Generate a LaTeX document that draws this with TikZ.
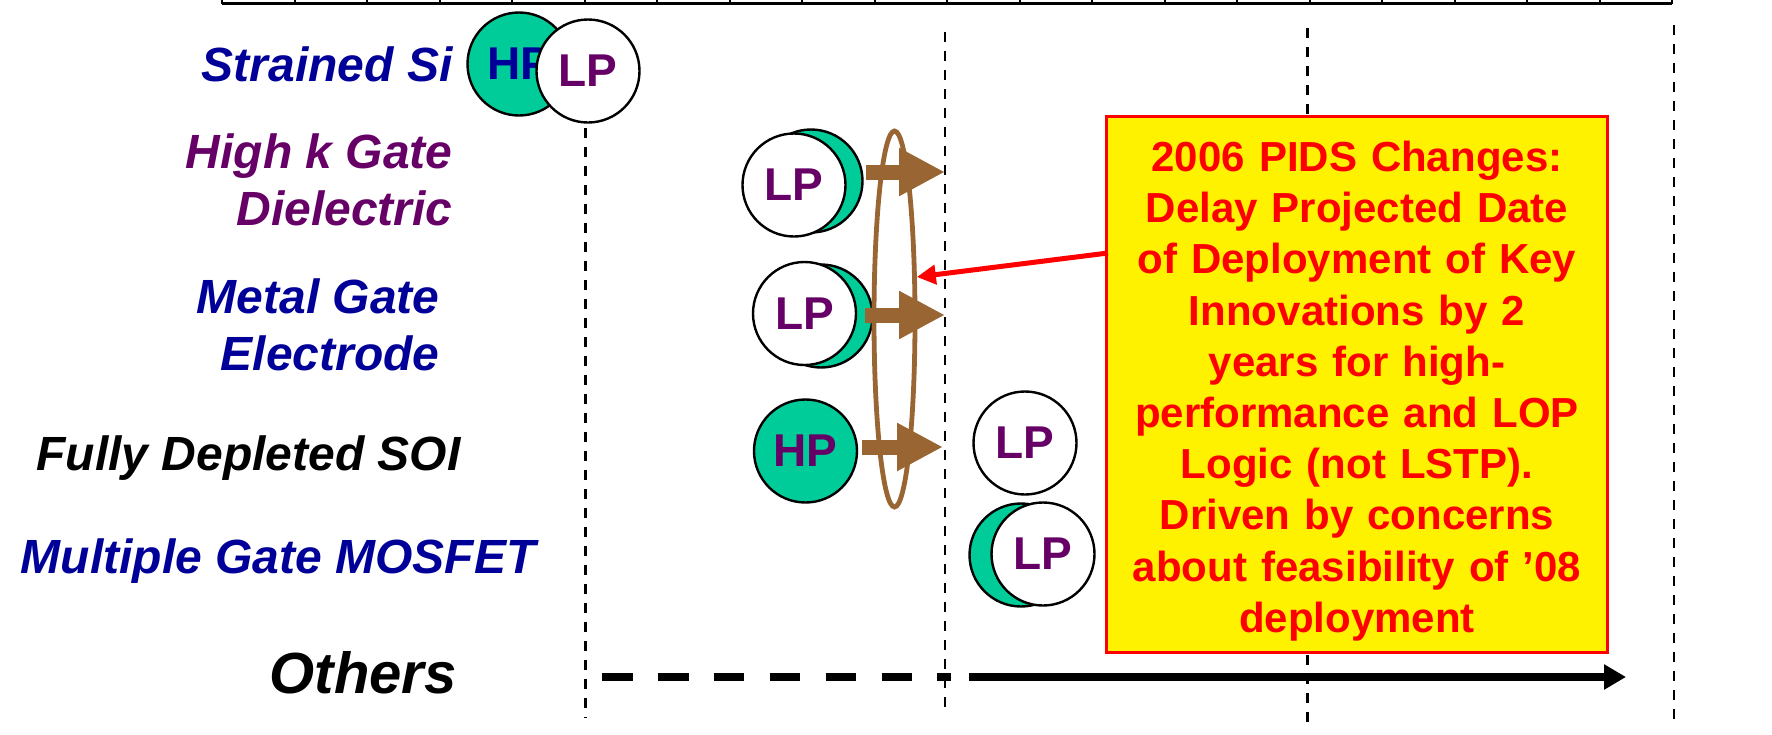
\documentclass[tikz,border=0pt]{standalone}
\usepackage{fontspec}
\setmainfont{Liberation Sans}
\usetikzlibrary{arrows.meta,shapes.geometric}

\definecolor{hpgreen}{HTML}{00CC99}
\definecolor{navy}{HTML}{000099}
\definecolor{plum}{HTML}{660066}
\definecolor{bronze}{HTML}{996633}

\tikzset{
  tech/.style={font=\bfseries\itshape\fontsize{24}{28.5}\selectfont,
    anchor=base east, align=right, inner sep=0pt},
  disc/.style={circle, draw, line width=1.2pt, minimum size=51.5pt,
    inner sep=0pt, font=\bfseries\fontsize{23}{23}\selectfont},
  hp/.style={disc, fill=hpgreen},
  lp/.style={disc, fill=white, text=plum},
  guide/.style={line width=1.2pt, dash pattern=on 5pt off 4.5pt},
  push/.style={bronze, line width=7.5pt, -{Triangle[length=23pt,width=22.5pt]}},
}

\begin{document}
\begin{tikzpicture}[x=0.5pt, y=-0.5pt]
  \useasboundingbox (0,0) rectangle (1772,734);
  % \draw[help lines] (0,0) grid[step=50] (1772,734);
  \clip (0,0) rectangle (1772,734);

  % year scale
  \draw[line width=1.5pt] (222,3.5) -- (1672,3.5);
  \foreach \k in {0,...,20}
    \draw[line width=1pt] ({222+72.5*\k},-10) -- ({222+72.5*\k},3.5);

  % node guides
  \foreach \x/\a/\b in {585.5/128/718, 945/32/715, 1307.5/28/731, 1674/25/727}
    \draw[guide] (\x,\a) -- (\x,\b);

  % row labels (base = last line)
  \node[tech, text=navy] (ss) at (453,81) {Strained Si};
  \node[tech, text=plum] (hk) at (453,225) {High k Gate\\Dielectric};
  \node[tech, text=navy] (mg) at (440,370) {Metal Gate\\Electrode};
  \node[tech] (fd) at (461,470) {Fully Depleted SOI};
  \node[tech, text=navy] (mos) at (536,573) {Multiple Gate MOSFET};
  \node[tech, font=\bfseries\itshape\fontsize{29}{29}\selectfont] (others) at (457,693) {Others};

  % HP / LP discs
  \node[hp, text=navy] (ss-hp) at (519,64) {HP};
  \node[lp] (ss-lp) at (588,71) {LP};
  \node[hp] (hk-hp) at (811,181) {};
  \node[lp] (hk-lp) at (794,185) {LP};
  \node[hp] (mg-hp) at (821,316) {};
  \node[lp] (mg-lp) at (804.5,313.5) {LP};
  \node[hp, text=plum] (fd-hp) at (805.5,451) {HP};
  \node[lp] (fd-lp) at (1025,443) {LP};
  \node[hp] (mos-hp) at (1021,555) {};
  \node[lp] (mos-lp) at (1043,554) {LP};

  % two-year shift
  \foreach \n/\x/\y/\t in {1/866/172/945, 2/865/315/945, 3/862/447/943} {
    \coordinate (push-s\n) at (\x,\y);
    \coordinate (push-e\n) at (\t,\y);
  }
  \foreach \n in {1,2,3}
    \draw[push] (push-s\n) -- (push-e\n);
  \node[ellipse, draw=bronze, line width=2.4pt, minimum width=20.5pt,
    minimum height=188pt, inner sep=0pt] (ring) at (894.5,319) {};

  \node[draw=red, line width=1.5pt, fill=yellow, minimum width=250.5pt,
    minimum height=268pt, inner sep=0pt] (memo) at (1356.5,384) {};
  \node[text=red, text width=245pt, align=center, inner sep=0pt,
    font=\bfseries\fontsize{21}{25.6}\selectfont] (memo-text) at (1357,391)
    {2006 PIDS Changes:\\ Delay Projected Date\\ of Deployment of Key\\
     Innovations by 2\\ years for high-\\ performance and LOP\\
     Logic (not LSTP).\\ Driven by concerns\\ about feasibility of ’08\\ deployment};
  \coordinate (memo-tail) at (1108,253);
  \draw[red, line width=2.5pt, -{Triangle[length=9.5pt,width=9.5pt]}] (memo-tail) -- (ring.62);

  % others
  \coordinate (oth-a) at (602,677);
  \coordinate (oth-b) at (951,677);
  \coordinate (oth-c) at (969,677);
  \coordinate (oth-d) at (1626,677);
  \draw[line width=4pt, dash pattern=on 15.3pt off 12.65pt] (oth-a) -- (oth-b);
  \draw[line width=4pt, -{Triangle[length=11pt,width=12pt]}] (oth-c) -- (oth-d);
\end{tikzpicture}
\end{document}
